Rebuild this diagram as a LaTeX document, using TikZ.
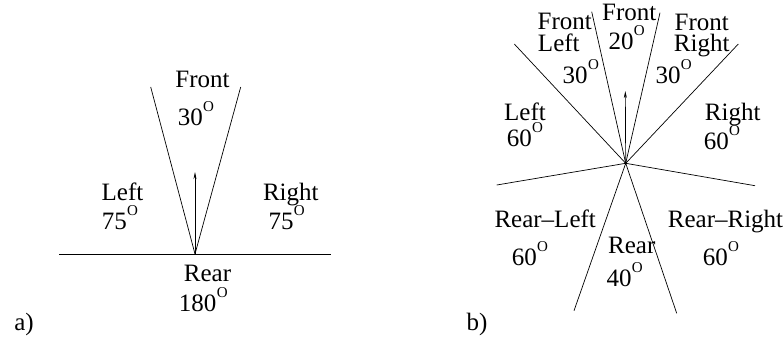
\documentclass[tikz,border=0pt]{standalone}
\usepackage{fontspec}
\setmainfont{Liberation Serif}
\usetikzlibrary{arrows.meta,positioning}
\newcommand{\dgr}{\kern0.3pt\smash{\raisebox{14pt}{\fontsize{15}{15}\selectfont O}}}

\begin{document}
\begin{tikzpicture}[
	x=1pt, y=-1pt,
	>={Stealth[length=7pt,width=3pt]},
	sect/.style={line width=0.7pt},
	lbl/.style={font=\fontsize{25}{26}\selectfont, inner sep=0pt, anchor=base}
	]
	\useasboundingbox (0,0) rectangle (783,349);

	% a) three sectors
	\coordinate (oa) at (195,254);
	\coordinate (aw) at (59,254);
	\coordinate (ae) at (331,254);
	\coordinate (afl) at (150.7,87);
	\coordinate (afr) at (240.7,87);
	\coordinate (aup) at (195,172);
	\draw[sect] (aw) -- (ae);
	\foreach \e in {afl,afr}
	\draw[sect] (oa) -- (\e);
	\draw[sect,->] (oa) -- (aup);

	\node[lbl] (afront) at (202.5,87.3) {Front};
	\node[lbl] (afrontdg) at (196,125) {30\dgr};
	\node[lbl] (aleft) at (122.5,200.7) {Left};
	\node[lbl] (aleftdg) at (120,229) {75\dgr};
	\node[lbl] (aright) at (290.8,200.7) {Right};
	\node[lbl] (arightdg) at (286.7,229) {75\dgr};
	\node[lbl] (arear) at (207.5,281.7) {Rear};
	\node[lbl] (areardg) at (203.3,311.7) {180\dgr};
	\node[lbl] (atag) at (24,330) {a)};

	% b) eight sectors
	\coordinate (ob) at (625.7,163.3);
	\foreach \n/\p in {bf1/{591.7,11.7},bf2/{660,12.7},bu1/{514.3,44},bu2/{738.3,44},
		bl1/{496.7,185},bl2/{755,185.7},br1/{574,310.7},br2/{676.7,313.3}}
	\coordinate (\n) at (\p);
	\foreach \e in {bf1,bf2,bu1,bu2,bl1,bl2,br1,br2}
	\draw[sect] (ob) -- (\e);
	\fill (ob) circle (1.6pt);
	\coordinate (bup) at (625.3,91);
	\draw[sect,->] (ob) -- (bup);

	\node[lbl] (bflt) at (564.7,29.3) {Front};
	\node[lbl] (bflb) at (558.8,51.7) {Left};
	\node[lbl] (bfldg) at (580.8,83.3) {30\dgr};
	\node[lbl] (bfront) at (629.2,20) {Front};
	\node[lbl] (bfrontdg) at (626.7,49.3) {20\dgr};
	\node[lbl] (bfrt) at (701.7,30.7) {Front};
	\node[lbl] (bfrb) at (701.7,51.7) {Right};
	\node[lbl] (bfrdg) at (673.7,83.3) {30\dgr};
	\node[lbl] (bleft) at (525,120.7) {Left};
	\node[lbl] (bleftdg) at (525,146) {60\dgr};
	\node[lbl] (bright) at (732.7,120.7) {Right};
	\node[lbl] (brightdg) at (722,149.3) {60\dgr};
	\node[lbl] (brl) at (545.2,227.7) {Rear--Left};
	\node[lbl] (brldg) at (530,265) {60\dgr};
	\node[lbl] (brear) at (631.8,253.3) {Rear};
	\node[lbl] (breardg) at (624.7,286.7) {40\dgr};
	\node[lbl] (brr) at (725.5,227.7) {Rear--Right};
	\node[lbl] (brrdg) at (721,265) {60\dgr};
	\node[lbl] (btag) at (477,330) {b)};
\end{tikzpicture}
\end{document}
